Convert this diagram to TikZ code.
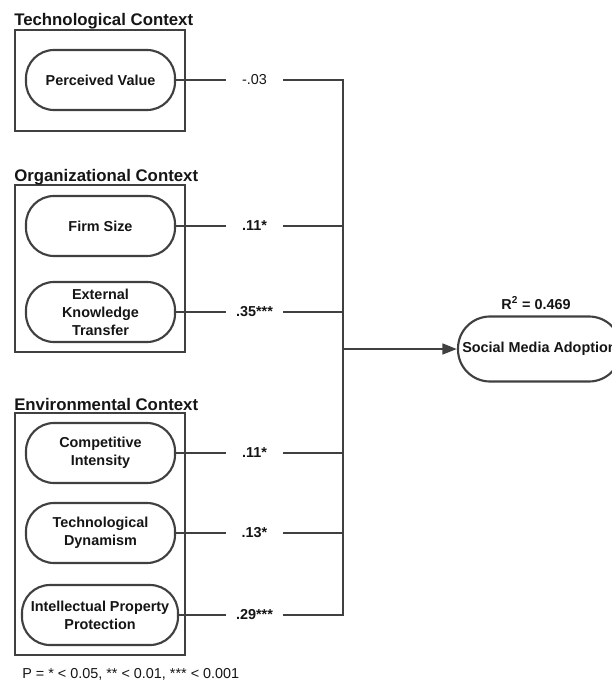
\documentclass[tikz,border=0pt]{standalone}
\usepackage{fontspec}
\setmainfont{Liberation Sans}
\usepackage{tikz}
\usetikzlibrary{arrows.meta,positioning}
\definecolor{linec}{HTML}{404040}
\definecolor{textc}{HTML}{151515}
\tikzset{
  grp/.style={draw=linec,line width=2.2pt},
  cons/.style={draw=linec,line width=1.6pt,fill=white,rounded corners=21pt,align=center,inner sep=0pt,
    minimum width=111.75pt,minimum height=45pt,text=textc,font=\bfseries\fontsize{10.8}{13.5}\selectfont},
  coef/.style={minimum width=42.75pt,inner sep=0pt,text=textc,font=\bfseries\fontsize{10.8}{13}\selectfont},
  ttl/.style={anchor=base west,inner sep=0pt,text=textc,font=\bfseries\fontsize{12.6}{15}\selectfont},
  ln/.style={linec,line width=2pt},
  ar/.style={-{Triangle[length=11pt,width=8pt]},linec,line width=2pt}
}
\begin{document}
\begin{tikzpicture}[x=0.75pt,y=-0.75pt]
\useasboundingbox (0,0) rectangle (611,684);
% context frames
\draw[grp] (15,30) rectangle (185,131);
\draw[grp] (15,185) rectangle (185,352);
\draw[grp] (15,413) rectangle (185,655);
\node[ttl] (ttech) at (14,26) {Technological Context};
\node[ttl] (torg) at (14,182) {Organizational Context};
\node[ttl] (tenv) at (14,410) {Environmental Context};
% constructs
\node[cons] (pv) at (100.5,80) {Perceived Value};
\node[cons] (fs) at (100.5,226) {Firm Size};
\node[cons] (ekt) at (100.5,312) {External\\Knowledge\\Transfer};
\node[cons] (ci) at (100.5,453) {Competitive\\Intensity};
\node[cons] (td) at (100.5,533) {Technological\\Dynamism};
\node[cons,minimum width=117pt] (ipp) at (100,615) {Intellectual Property\\Protection};
\node[cons,minimum width=122.25pt,minimum height=48.75pt,rounded corners=24pt] (sma) at (539.5,349) {Social Media Adoption};
\node[text=textc,font=\bfseries\fontsize{10.8}{13}\selectfont,inner sep=0pt] (rsq) at (536,303) {R\textsuperscript{2} = 0.469};
% path coefficients
\node[coef,font=\fontsize{10.8}{13}\selectfont] (c1) at (254.5,80) {-.03};
\node[coef] (c2) at (254.5,226) {.11*};
\node[coef] (c3) at (254.5,312) {.35***};
\node[coef] (c4) at (254.5,453) {.11*};
\node[coef] (c5) at (254.5,533) {.13*};
\node[coef] (c6) at (254.5,615) {.29***};
\coordinate (b1) at (343,80);
\coordinate (b2) at (343,226);
\coordinate (b3) at (343,312);
\coordinate (b4) at (343,453);
\coordinate (b5) at (343,533);
\coordinate (b6) at (343,615);
\coordinate (hub) at (343,349);
% connectors
\draw[ln] (pv) -- (c1);
\draw[ln] (fs) -- (c2);
\draw[ln] (ekt) -- (c3);
\draw[ln] (ci) -- (c4);
\draw[ln] (td) -- (c5);
\draw[ln] (ipp) -- (c6);
\draw[ln] (c1) -- (b1) -- (b6) -- (c6);
\draw[ln] (c2) -- (b2);
\draw[ln] (c3) -- (b3);
\draw[ln] (c4) -- (b4);
\draw[ln] (c5) -- (b5);
\draw[ar] (hub) -- (sma);
\node[anchor=base west,inner sep=0pt,text=textc,font=\fontsize{10.8}{13}\selectfont] (note) at (22,678) {P = * < 0.05, ** < 0.01, *** < 0.001};
\end{tikzpicture}
\end{document}
